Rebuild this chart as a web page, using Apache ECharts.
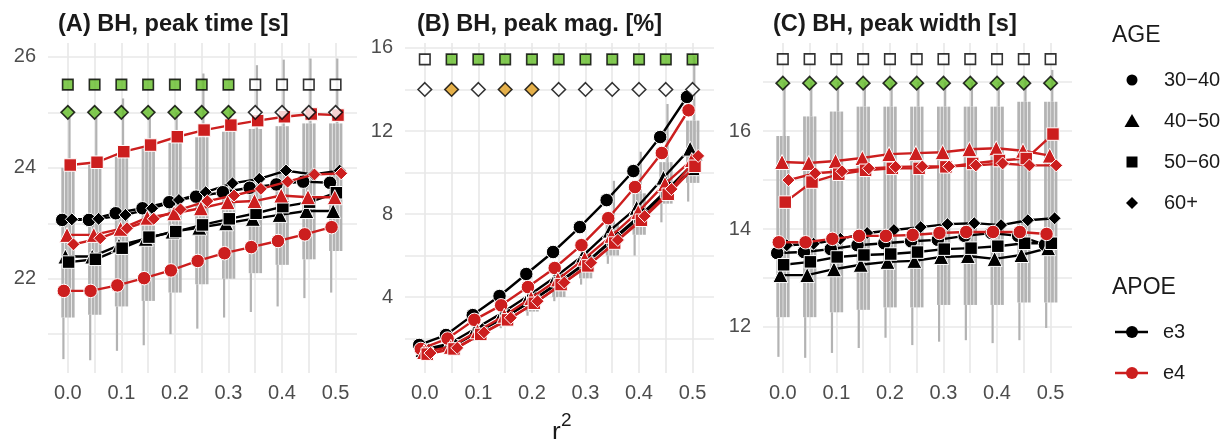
<!DOCTYPE html>
<html><head><meta charset="utf-8">
<script src="https://cdn.jsdelivr.net/npm/echarts@6/dist/echarts.min.js"></script>
<style>html,body{margin:0;padding:0;background:#fff}#c{width:1231px;height:439px}</style>
</head><body><div id="c"></div><script>
// ---------------- DATA ----------------
const r2 = [0, 0.05, 0.1, 0.15, 0.2, 0.25, 0.3, 0.35, 0.4, 0.45, 0.5];
const ageGroups = ['30−40', '40−50', '50−60', '60+'];
const apoeGroups = ['e3', 'e4'];
const panelTitles = ['(A) BH, peak time [s]', '(B) BH, peak mag. [%]', '(C) BH, peak width [s]'];
const xTickLabels = [0, 0.1, 0.2, 0.3, 0.4, 0.5];
const xGridValues = [0, 0.05, 0.1, 0.15, 0.2, 0.25, 0.3, 0.35, 0.4, 0.45, 0.5];
const yTickLabelsA = [22, 24, 26];
const yGridA = [21, 22, 23, 24, 25, 26];
const yTickLabelsB = [4, 8, 12, 16];
const yGridB = [2, 4, 6, 8, 10, 12, 14, 16];
const yTickLabelsC = [12, 14, 16];
const yGridC = [12, 13, 14, 15, 16, 17];

// Panel A: peak time
const a_e3_30 = [23.06, 23.06, 23.18, 23.27, 23.38, 23.48, 23.56, 23.64, 23.70, 23.75, 23.73];
const a_e3_40 = [22.40, 22.40, 22.60, 22.72, 22.85, 22.92, 23.00, 23.08, 23.15, 23.22, 23.22];
const a_e3_50 = [22.30, 22.35, 22.55, 22.75, 22.85, 22.97, 23.08, 23.18, 23.30, 23.38, 23.55];
const a_e3_60 = [23.07, 23.08, 23.15, 23.27, 23.42, 23.56, 23.72, 23.80, 23.95, 23.88, 23.95];
const a_e4_30 = [21.78, 21.78, 21.88, 22.01, 22.15, 22.32, 22.46, 22.57, 22.68, 22.80, 22.93];
const a_e4_40 = [22.79, 22.79, 22.90, 23.10, 23.18, 23.27, 23.38, 23.40, 23.50, 23.47, 23.47];
const a_e4_50 = [24.05, 24.10, 24.29, 24.41, 24.56, 24.68, 24.77, 24.85, 24.92, 24.97, 24.95];
const a_e4_60 = [22.62, 22.73, 22.91, 23.08, 23.25, 23.40, 23.50, 23.62, 23.75, 23.88, 23.90];
const ga_wlo = [20.55, 20.53, 20.70, 20.80, 21.00, 21.10, 21.30, 21.40, 21.50, 21.65, 21.75];
const ga_blo = [21.30, 21.35, 21.50, 21.60, 21.75, 21.90, 22.00, 22.10, 22.25, 22.35, 22.50];
const ga_bhi = [24.00, 24.05, 24.20, 24.35, 24.45, 24.55, 24.65, 24.70, 24.75, 24.80, 24.80];
const ga_whi = [24.90, 24.90, 25.25, 24.90, 25.00, 25.70, 25.10, 25.85, 25.95, 25.97, 25.97];
const sigA_sq = ['g', 'g', 'g', 'g', 'g', 'g', 'g', 'w', 'w', 'w', 'w'];
const sigA_di = ['g', 'g', 'g', 'g', 'g', 'g', 'g', 'w', 'w', 'w', 'w'];

// Panel B: peak magnitude
const b_e3_30 = [1.69, 2.17, 3.13, 4.05, 5.11, 6.17, 7.37, 8.67, 10.07, 11.71, 13.64];
const b_e3_40 = [1.45, 1.75, 2.50, 3.25, 4.10, 5.00, 6.00, 7.20, 8.30, 9.75, 11.15];
const b_e3_50 = [1.40, 1.65, 2.35, 3.05, 3.85, 4.70, 5.65, 6.75, 7.85, 9.05, 10.15];
const b_e3_60 = [1.45, 1.70, 2.45, 3.15, 3.95, 4.85, 5.80, 6.95, 8.05, 9.30, 10.60];
const b_e4_30 = [1.50, 2.00, 2.90, 3.60, 4.48, 5.40, 6.50, 7.80, 9.30, 10.94, 13.00];
const b_e4_40 = [1.35, 1.60, 2.35, 3.10, 3.95, 4.85, 5.85, 6.95, 8.10, 9.45, 10.60];
const b_e4_50 = [1.25, 1.50, 2.20, 2.90, 3.70, 4.60, 5.50, 6.60, 7.70, 8.95, 10.30];
const b_e4_60 = [1.30, 1.55, 2.30, 3.00, 3.80, 4.70, 5.65, 6.75, 7.90, 9.20, 10.80];
const gb_wlo = [1.10, 1.30, 1.90, 2.50, 3.10, 3.80, 4.60, 5.60, 6.00, 7.60, 8.60];
const gb_blo = [1.20, 1.40, 2.00, 2.60, 3.30, 4.00, 4.90, 6.00, 7.00, 8.50, 9.50];
const gb_bhi = [1.45, 1.80, 2.50, 3.10, 3.80, 4.70, 5.80, 7.50, 9.00, 10.50, 12.50];
const gb_whi = [1.50, 1.90, 2.60, 3.30, 4.00, 5.00, 6.30, 9.60, 11.00, 13.30, 15.60];
const sigB_sq = ['w', 'g', 'g', 'g', 'g', 'g', 'g', 'g', 'g', 'g', 'g'];
const sigB_di = ['w', 'o', 'w', 'o', 'o', 'w', 'w', 'w', 'w', 'w', 'w'];

// Panel C: peak width
const c_e3_30 = [13.51, 13.53, 13.59, 13.67, 13.71, 13.75, 13.78, 13.86, 13.92, 13.86, 13.68];
const c_e3_40 = [13.06, 13.06, 13.18, 13.27, 13.33, 13.35, 13.43, 13.45, 13.39, 13.47, 13.61];
const c_e3_50 = [13.27, 13.33, 13.43, 13.47, 13.49, 13.53, 13.59, 13.61, 13.65, 13.71, 13.71];
const c_e3_60 = [13.67, 13.70, 13.80, 13.92, 13.98, 14.04, 14.10, 14.12, 14.08, 14.18, 14.22];
const c_e4_30 = [13.73, 13.73, 13.80, 13.86, 13.86, 13.88, 13.92, 13.94, 13.94, 13.94, 13.90];
const c_e4_40 = [15.37, 15.35, 15.39, 15.45, 15.53, 15.55, 15.57, 15.63, 15.65, 15.60, 15.50];
const c_e4_50 = [14.55, 14.96, 15.12, 15.20, 15.24, 15.24, 15.27, 15.34, 15.40, 15.44, 15.94];
const c_e4_60 = [15.00, 15.14, 15.18, 15.24, 15.27, 15.28, 15.28, 15.30, 15.34, 15.30, 15.30];
const gc_wlo = [11.39, 11.37, 11.47, 11.57, 11.78, 11.63, 11.70, 11.73, 11.67, 11.73, 11.98];
const gc_blo = [12.20, 12.20, 12.30, 12.35, 12.40, 12.40, 12.45, 12.45, 12.45, 12.50, 12.50];
const gc_bhi = [15.90, 16.30, 16.40, 16.50, 16.50, 16.50, 16.50, 16.50, 16.50, 16.60, 16.60];
const gc_whi = [17.00, 17.00, 17.00, 17.00, 17.00, 17.00, 17.00, 17.00, 17.00, 17.10, 17.25];
const sigC_sq = ['w', 'w', 'w', 'w', 'w', 'w', 'w', 'w', 'w', 'w', 'w'];
const sigC_di = ['g', 'g', 'g', 'g', 'g', 'g', 'g', 'g', 'g', 'g', 'g'];

// ---------------- STYLE ----------------
const FONT = '"Liberation Sans", Arial, sans-serif';
const apoeColors = ['#000000', '#cc1e1e'];
const shapes = ['circle', 'triangle', 'rect', 'diamond'];
const shapeSizes = [13.5, 15, 12.5, 13];
const dodgeStep = 0.003;
const fillMap = { g: '#63bd27', w: '#ffffff', o: '#e2a020' };
const greyCol = '#b3b3b3';
const gridCol = '#e8e8e8';

const panels = [
  { lines: [[a_e3_30, a_e3_40, a_e3_50, a_e3_60], [a_e4_30, a_e4_40, a_e4_50, a_e4_60]],
    grey: [ga_wlo, ga_blo, ga_bhi, ga_whi], sq: sigA_sq, di: sigA_di, sqY: 25.5, diY: 25.0,
    yMin: 20.3, yMax: 26.25, yLab: yTickLabelsA, yGrid: yGridA, left: 48 },
  { lines: [[b_e3_30, b_e3_40, b_e3_50, b_e3_60], [b_e4_30, b_e4_40, b_e4_50, b_e4_60]],
    grey: [gb_wlo, gb_blo, gb_bhi, gb_whi], sq: sigB_sq, di: sigB_di, sqY: 15.45, diY: 14.0,
    yMin: 0.34, yMax: 16.24, yLab: yTickLabelsB, yGrid: yGridB, left: 405 },
  { lines: [[c_e3_30, c_e3_40, c_e3_50, c_e3_60], [c_e4_30, c_e4_40, c_e4_50, c_e4_60]],
    grey: [gc_wlo, gc_blo, gc_bhi, gc_whi], sq: sigC_sq, di: sigC_di, sqY: 17.47, diY: 16.98,
    yMin: 11.06, yMax: 17.8, yLab: yTickLabelsC, yGrid: yGridC, left: 763 }
];

const grids = [], xAxes = [], yAxes = [], series = [], graphics = [];

function greyRender(params, api) {
  const x = api.value(0);
  const cx = api.coord([x, api.value(1)])[0];
  const yWlo = api.coord([x, api.value(1)])[1];
  const yBlo = api.coord([x, api.value(2)])[1];
  const yBhi = api.coord([x, api.value(3)])[1];
  const yWhi = api.coord([x, api.value(4)])[1];
  const ch = [];
  [-6.5, -3, 0.5, 4].forEach(off => ch.push({ type: 'rect', shape: { x: cx + off, y: yBhi, width: 2.8, height: yBlo - yBhi }, style: { fill: greyCol } }));
  ch.push({ type: 'rect', shape: { x: cx + 0.6, y: yWhi, width: 2.2, height: yBhi - yWhi }, style: { fill: greyCol } });
  ch.push({ type: 'rect', shape: { x: cx - 5.5, y: yBlo, width: 2.2, height: yWlo - yBlo }, style: { fill: greyCol } });
  return { type: 'group', children: ch };
}

panels.forEach((p, k) => {
  grids.push({ left: p.left, top: 43, width: 309, height: 330 });
  xAxes.push({
    type: 'value', gridIndex: k, min: -0.037, max: 0.54,
    axisLine: { show: false },
    axisTick: { show: false, customValues: xGridValues },
    axisLabel: { customValues: xTickLabels, formatter: v => v.toFixed(1), color: '#4d4d4d', fontSize: 20, fontFamily: FONT, margin: 10 },
    splitLine: { show: true, lineStyle: { color: gridCol, width: 1.6 } }
  });
  yAxes.push({
    type: 'value', gridIndex: k, min: p.yMin, max: p.yMax,
    axisLine: { show: false },
    axisTick: { show: false, customValues: p.yGrid },
    axisLabel: { customValues: p.yLab, color: '#4d4d4d', fontSize: 20, fontFamily: FONT, margin: 12 },
    splitLine: { show: true, lineStyle: { color: gridCol, width: 1.6 } }
  });
  // grey distributions
  series.push({
    type: 'custom', xAxisIndex: k, yAxisIndex: k, clip: true, silent: true, z: 1,
    renderItem: greyRender,
    encode: { x: 0, y: [1, 2, 3, 4] },
    data: r2.map((x, i) => [x, p.grey[0][i], p.grey[1][i], p.grey[2][i], p.grey[3][i]])
  });
  // lines
  apoeGroups.forEach((ap, a) => {
    ageGroups.forEach((ag, g) => {
      const off = (g * 2 + a - 3.5) * dodgeStep;
      series.push({
        type: 'line', name: ap + ' ' + ag, xAxisIndex: k, yAxisIndex: k, z: 3 + a,
        data: p.lines[a][g].map((v, i) => [r2[i] + off, v]),
        symbol: shapes[g], symbolSize: shapeSizes[g], showAllSymbol: true,
        lineStyle: { color: apoeColors[a], width: 2.4 },
        itemStyle: { color: apoeColors[a], borderColor: '#ffffff', borderWidth: 1 },
        emphasis: { disabled: true }, silent: true
      });
    });
  });
  // significance rows
  series.push({
    type: 'scatter', xAxisIndex: k, yAxisIndex: k, symbol: 'rect', symbolSize: 10.5, z: 6, silent: true,
    data: r2.map((x, i) => ({ value: [x, p.sqY], itemStyle: { color: fillMap[p.sq[i]] } })),
    itemStyle: { borderColor: '#000', borderWidth: 1.6 }
  });
  series.push({
    type: 'scatter', xAxisIndex: k, yAxisIndex: k, symbol: 'diamond', symbolSize: 13.5, z: 6, silent: true,
    data: r2.map((x, i) => ({ value: [x, p.diY], itemStyle: { color: fillMap[p.di[i]] } })),
    itemStyle: { borderColor: '#000', borderWidth: 1.6 }
  });
  graphics.push({ type: 'text', x: [58, 417, 773][k], y: 24,
    style: { text: panelTitles[k], fontSize: 23.6, fontWeight: 'bold', fontFamily: FONT, fill: '#1a1a1a', align: 'left', verticalAlign: 'middle' } });
});

// x-axis title r^2
graphics.push({ type: 'text', x: 552, y: 420, style: { text: 'r', fontSize: 26, fontFamily: FONT, fill: '#1a1a1a', align: 'left', verticalAlign: 'top' } });
graphics.push({ type: 'text', x: 561, y: 411, style: { text: '2', fontSize: 19, fontFamily: FONT, fill: '#1a1a1a', align: 'left', verticalAlign: 'top' } });

// legend
const LX = 1112, SX = 1132, TX = 1164;
graphics.push({ type: 'text', x: LX, y: 36, style: { text: 'AGE', fontSize: 23, fontFamily: FONT, fill: '#1a1a1a', verticalAlign: 'middle' } });
const rowsY = [80, 121, 162, 203];
rowsY.forEach((y, i) => {
  let shape;
  if (i === 0) shape = { type: 'circle', shape: { cx: SX, cy: y, r: 5.5 } };
  else if (i === 1) shape = { type: 'polygon', shape: { points: [[SX, y - 7], [SX + 7.5, y + 6], [SX - 7.5, y + 6]] } };
  else if (i === 2) shape = { type: 'rect', shape: { x: SX - 5.5, y: y - 5.5, width: 11, height: 11 } };
  else shape = { type: 'polygon', shape: { points: [[SX, y - 6], [SX + 6, y], [SX, y + 6], [SX - 6, y]] } };
  shape.style = { fill: '#000' };
  graphics.push(shape);
  graphics.push({ type: 'text', x: TX, y: y, style: { text: ageGroups[i], fontSize: 20, fontFamily: FONT, fill: '#1a1a1a', verticalAlign: 'middle' } });
});
graphics.push({ type: 'text', x: LX, y: 288, style: { text: 'APOE', fontSize: 23, fontFamily: FONT, fill: '#1a1a1a', verticalAlign: 'middle' } });
[332, 373].forEach((y, i) => {
  graphics.push({ type: 'line', shape: { x1: 1115, y1: y, x2: 1148, y2: y }, style: { stroke: apoeColors[i], lineWidth: 2.4 } });
  graphics.push({ type: 'circle', shape: { cx: SX, cy: y, r: 6 }, style: { fill: apoeColors[i] } });
  graphics.push({ type: 'text', x: 1163, y: y, style: { text: apoeGroups[i], fontSize: 20, fontFamily: FONT, fill: '#1a1a1a', verticalAlign: 'middle' } });
});

const chart = echarts.init(document.getElementById('c'), null, { renderer: 'canvas' });
chart.setOption({
  animation: false,
  backgroundColor: '#ffffff',
  grid: grids, xAxis: xAxes, yAxis: yAxes, series: series, graphic: graphics
});
</script></body></html>
